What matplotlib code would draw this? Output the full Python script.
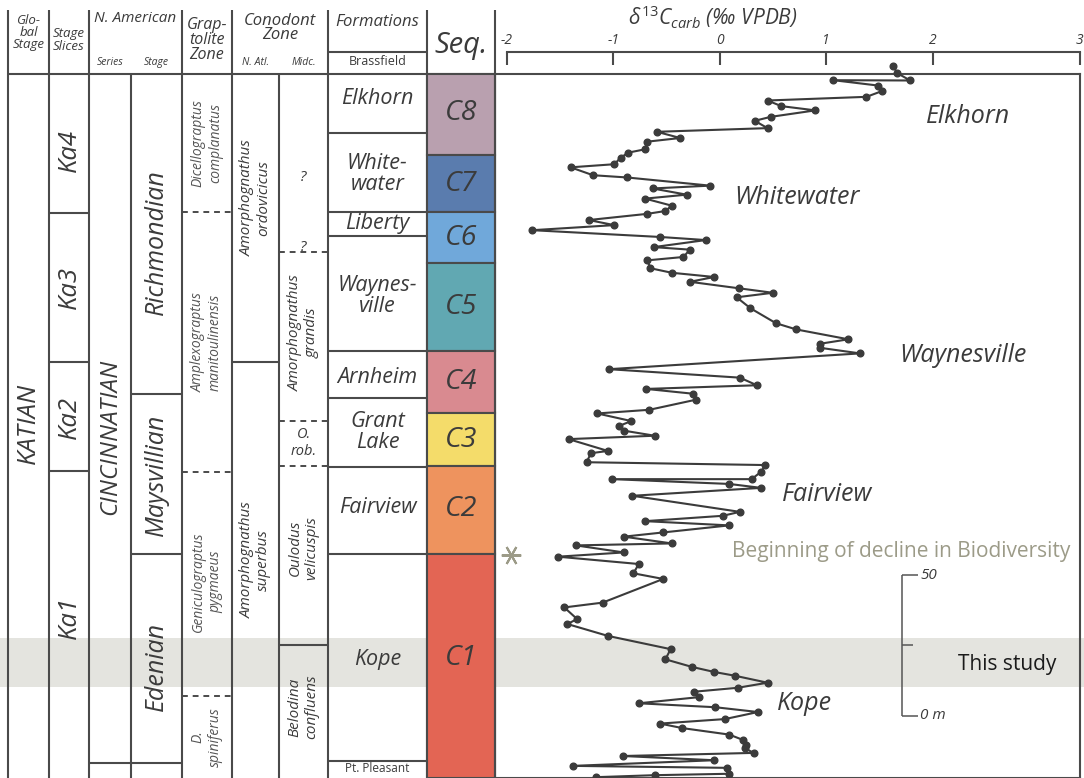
import matplotlib.pyplot as plt
from matplotlib.patches import Rectangle

plt.rcParams['font.family'] = ['Open Sans', 'DejaVu Sans']
plt.rcParams['mathtext.fontset'] = 'custom'
plt.rcParams['mathtext.it'] = 'Open Sans:italic'
plt.rcParams['mathtext.rm'] = 'Open Sans'

INK = '#3b3b3b'
LINE = '#4a4a4a'

# carbon isotope record: height above the 0 m datum (m) and d13C carb (permil VPDB)
heights = [230.5, 228.0, 225.4, 225.5, 223.6, 221.7, 219.6, 218.3, 216.3, 214.8,
           212.5, 211.1, 208.5, 207.2, 205.0, 203.7, 201.0, 199.8, 198.0, 195.7,
           194.6, 191.8, 191.0, 188.1, 187.1, 184.9, 183.5, 181.0, 179.1, 178.1,
           175.9, 174.1, 172.3, 169.9, 168.8, 166.3, 165.4, 162.8, 161.6, 158.8,
           157.2, 155.7, 154.0, 151.7, 150.1, 148.5, 144.6, 139.3, 137.1, 133.6,
           132.0, 130.6, 128.6, 123.0, 120.0, 117.3, 116.0, 114.3, 112.2, 108.6,
           107.3, 104.6, 102.8, 101.2, 99.4, 98.2, 94.0, 93.2, 90.0, 89.0,
           86.6, 84.0, 84.0, 82.3, 80.9, 78.1, 72.4, 71.0, 69.1, 67.6,
           65.1, 63.6, 61.2, 60.5, 58.0, 56.5, 53.9, 50.6, 48.6, 40.2,
           38.5, 34.4, 32.6, 28.4, 23.7, 20.1, 17.4, 15.6, 14.3, 11.8,
           10.0, 8.6, 6.7, 4.5, 3.1, 1.4, -1.1, -2.7, -4.3, -6.6,
           -8.5, -10.3, -11.5, -13.1, -14.2, -15.7, -17.7, -18.4, -20.5, -21.0, -21.7]
d13c = [1.63, 1.67, 1.79, 1.07, 1.49, 1.53, 1.38, 0.45, 0.58, 0.90,
        0.48, 0.33, 0.45, -0.59, -0.37, -0.68, -0.70, -0.86, -0.93, -0.99,
        -1.40, -1.19, -0.87, -0.09, -0.63, -0.31, -0.70, -0.45, -0.51, -0.68,
        -1.23, -0.99, -1.76, -0.56, -0.13, -0.62, -0.28, -0.34, -0.68, -0.65,
        -0.45, -0.05, -0.28, 0.18, 0.50, 0.16, 0.29, 0.53, 0.72, 1.21,
        0.94, 0.94, 1.32, -1.04, 0.19, 0.35, -0.69, -0.25, -0.22, -0.66,
        -1.15, -0.83, -0.95, -0.90, -0.61, -1.42, -1.05, -1.21, -1.25, 0.43,
        0.39, 0.30, -1.01, 0.09, 0.39, -0.82, 0.19, 0.03, -0.70, 0.09,
        -0.53, -0.90, -0.45, -1.35, -0.90, -1.52, -0.76, -0.81, -0.53, -1.10,
        -1.46, -1.34, -1.43, -1.05, -0.46, -0.51, -0.26, -0.05, 0.14, 0.45,
        0.17, -0.24, -0.19, -0.76, -0.04, 0.36, 0.05, -0.56, -0.35, 0.09,
        0.22, 0.25, 0.24, 0.32, -0.91, -0.05, -1.38, 0.07, 0.09, -0.61, -1.16]

x_ticks = [-2, -1, 0, 1, 2, 3.38]
x_tick_labels = ['-2', '-1', '0', '1', '2', '3']

# column table (heights in m)
TOP, BOTTOM, HEAD_TOP = 227.7, -22.0, 250.4
slice_bounds = [178.4, 125.5, 86.9]
slice_names = ['Ka4', 'Ka3', 'Ka2', 'Ka1']
slice_label_h = [200.7, 151.8, 106.0, 34.8]
stage_bounds = [114.2, 57.4, -16.7]
stage_names = ['Richmondian', 'Maysvillian', 'Edenian']
stage_label_h = [168.0, 85.5, 17.7]
grapt_bounds = [178.7, 86.5, 7.1]
grapt_names = ['Dicellograptus\ncomplanatus', 'Amplexograptus\nmanitoulinensis',
               'Geniculograptus\npygmaeus', 'D.\nspiniferus']
grapt_label_h = [203.2, 132.6, 47.5, -7.4]
natl_bounds = [125.5]
natl_names = ['Amorphognathus\nordovicicus', 'Amorphognathus\nsuperbus']
natl_label_h = [183.7, 55.3]
midc_dashed = [164.5, 104.6, 88.7]
midc_solid = [25.2]
midc_names = ['Amorphognathus\ngrandis', 'Oulodus\nvelicuspis', 'Belodina\nconfluens']
midc_label_h = [135.8, 59.6, 3.2]
formation_bounds = [206.7, 178.7, 170.2, 129.4, 112.8, 88.3, 57.4, -16.0]
formation_names = ['Elkhorn', 'White-\nwater', 'Liberty', 'Waynes-\nville', 'Arnheim',
                   'Grant\nLake', 'Fairview', 'Kope']
formation_label_h = [218.8, 192.2, 174.5, 148.9, 120.2, 100.7, 74.1, 20.2]
seq_names = ['C8', 'C7', 'C6', 'C5', 'C4', 'C3', 'C2', 'C1']
seq_tops = [TOP, 198.8, 178.7, 160.6, 129.3, 107.3, 88.5, 57.4]
seq_bases = [198.8, 178.7, 160.6, 129.3, 107.3, 88.5, 57.4, BOTTOM]
seq_label_h = [214.0, 188.7, 169.6, 145.0, 118.3, 97.9, 73.5, 20.5]
seq_colors = ['#b9a0af', '#5a7cae', '#70a8da', '#61a8b2', '#d98a90', '#f4dc6a', '#ee935e', '#e36554']
study_interval = (10.4, 27.8)

# column edges (pixels across the figure)
cx = [8, 49, 89, 131, 182, 232, 279, 328, 427, 495]

fig = plt.figure(figsize=(10.84, 7.78), dpi=100)
ax = fig.add_axes([0, 0, 1, 1])
ax.set_xlim(0, 1084)
ax.set_ylim(BOTTOM, 253.9)
ax.axis('off')

ax.axhspan(*study_interval, color='#e4e4df', lw=0, zorder=0)


def mid(i):
    return (cx[i] + cx[i + 1]) / 2


def label(x, h, s, size, rot=0, style='italic', color=INK, ls=1.0, z=5):
    ax.text(x, h, s, fontsize=size, rotation=rot, style=style, color=color,
            ha='center', va='center', linespacing=ls, zorder=z,
            rotation_mode='anchor' if rot else 'default')


# frame lines
for x in [cx[0], cx[1], cx[2], cx[4], cx[5], cx[7], cx[8], cx[9]]:
    ax.vlines(x, BOTTOM, HEAD_TOP, color=LINE, lw=1.5, zorder=3)
for x in [cx[3], cx[6]]:
    ax.vlines(x, BOTTOM, TOP, color=LINE, lw=1.5, zorder=3)
ax.hlines(TOP, cx[0], cx[9], color=LINE, lw=1.5, zorder=3)
ax.hlines(235.5, cx[7], cx[8], color=LINE, lw=1.5, zorder=3)

ax.hlines(slice_bounds, cx[1], cx[2], color=LINE, lw=1.5, zorder=3)
ax.hlines(stage_bounds[-1], cx[2], cx[4], color=LINE, lw=1.5, zorder=3)
ax.hlines(stage_bounds[:-1], cx[3], cx[4], color=LINE, lw=1.5, zorder=3)
ax.hlines(grapt_bounds, cx[4], cx[5], color=LINE, lw=1.4, ls=(0, (3, 2.5)), zorder=3)
ax.hlines(natl_bounds, cx[5], cx[6], color=LINE, lw=1.5, zorder=3)
ax.hlines(midc_dashed, cx[6], cx[7], color=LINE, lw=1.4, ls=(0, (3, 2.5)), zorder=3)
ax.hlines(midc_solid, cx[6], cx[7], color=LINE, lw=1.5, zorder=3)
ax.hlines(formation_bounds, cx[7], cx[8], color=LINE, lw=1.5, zorder=3)

# header
label(mid(0), 242.2, 'Glo-\nbal\nStage', 9.5, ls=0.9)
label(mid(1), 239.7, 'Stage\nSlices', 9.5, ls=0.95)
label((cx[2] + cx[4]) / 2, 247.5, 'N. American', 11)
label(mid(2), 231.6, 'Series', 7.5)
label(mid(3), 231.6, 'Stage', 7.5)
label(mid(4), 239.7, 'Grap-\ntolite\nZone', 11.5, ls=0.9)
label((cx[5] + cx[7]) / 2, 244.0, 'Conodont\nZone', 12, ls=0.85)
label(mid(5), 231.6, 'N. Atl.', 7.5)
label(mid(6), 231.6, 'Midc.', 7.5)
label(mid(7), 246.1, 'Formations', 12)
label(mid(7), 232.0, 'Brassfield', 9, style='normal')
label(mid(8), 237.9, 'Seq.', 21)

# columns
label(mid(0), 103.9, 'KATIAN', 18.5, rot=90)
for name, h in zip(slice_names, slice_label_h):
    label(mid(1), h, name, 18.5, rot=90)
label(mid(2), 98.8, 'CINCINNATIAN', 17.5, rot=90)
for name, h in zip(stage_names, stage_label_h):
    label(mid(3), h, name, 18, rot=90)
for name, h in zip(grapt_names, grapt_label_h):
    label(mid(4), h, name, 10, rot=90, color='#555555', ls=1.2)
for name, h in zip(natl_names, natl_label_h):
    label(mid(5), h, name, 11, rot=90, ls=1.15)
for name, h in zip(midc_names, midc_label_h):
    label(mid(6), h, name, 11, rot=90, ls=1.15)
label(mid(6), 191.1, '?', 11)
label(mid(6), 166.0, '?', 11)
label(mid(6), 96.8, 'O.\nrob.', 10.5, ls=1.15)
for name, h in zip(formation_names, formation_label_h):
    label(mid(7), h, name, 15.5, ls=1.05)
label(mid(7), -18.8, 'Pt. Pleasant', 8.5, style='normal')

for name, top, base, h, c in zip(seq_names, seq_tops, seq_bases, seq_label_h, seq_colors):
    ax.add_patch(Rectangle((cx[8], base), cx[9] - cx[8], top - base, facecolor=c,
                           edgecolor=LINE, lw=1.5, zorder=4))
    label(mid(8), h, name, 20.5)

# isotope panel
cax = fig.add_axes([495 / 1084, 0, (1079.5 - 495) / 1084, (778 - 74) / 778])
cax.set_xlim(-2.111, 3.382)
cax.set_ylim(BOTTOM, TOP)
cax.patch.set_alpha(0)
cax.set_xticks([])
cax.set_yticks([])
for s in cax.spines.values():
    s.set_color(LINE)
    s.set_linewidth(1.5)

cax.plot(d13c, heights, '-o', color=INK, lw=1.5, ms=4.8, clip_on=False, zorder=5)

for s, v, h in [('Elkhorn', 2.334, 212.8), ('Whitewater', 0.727, 184.0),
                ('Waynesville', 2.287, 128.0), ('Fairview', 1.009, 78.4), ('Kope', 0.802, 4.3)]:
    cax.text(v, h, s, fontsize=18, style='italic', color=INK, ha='center', va='center')

cax.plot(-1.96, 57.1, marker=(6, 2, 90), ms=14, mew=1.5, color='#9c9b88', clip_on=False)
cax.text(1.705, 58.5, 'Beginning of decline in Biodiversity', fontsize=15, color='#9c9b88',
         ha='center', va='center')
cax.text(2.70, 18.1, 'This study', fontsize=15, color='#1a1a1a', ha='center', va='center')

# 50 m scale bar
sb = 1.714
cax.vlines(sb, 0, 50, color='#555555', lw=1.1)
cax.hlines([0, 50], sb, sb + 0.15, color='#555555', lw=1.1)
cax.hlines(25, sb, sb + 0.1, color='#555555', lw=1.1)
cax.text(sb + 0.17, 50, '50', fontsize=11, style='italic', color=INK, ha='left', va='center')
cax.text(sb + 0.17, 0, '0 m', fontsize=11, style='italic', color=INK, ha='left', va='center')

# d13C scale above the panel
sax = fig.add_axes([507 / 1084, (778 - 65) / 778, (1079.5 - 507) / 1084, 13 / 778])
sax.set_xlim(-2, 3.38)
sax.patch.set_alpha(0)
for k in ['bottom', 'left', 'right']:
    sax.spines[k].set_visible(False)
sax.spines['top'].set_color(LINE)
sax.spines['top'].set_linewidth(1.5)
sax.set_yticks([])
sax.xaxis.tick_top()
sax.set_xticks(x_ticks)
sax.set_xticklabels(x_tick_labels, fontstyle='italic', color=INK)
sax.tick_params(axis='x', direction='in', length=9.4, width=1.5, color=LINE, pad=3, labelsize=10)

fig.text(713 / 1084, 1 - 17 / 778, r'$\delta^{13}C_{carb}$ (‰ VPDB)', fontsize=15,
         style='italic', color=INK, ha='center', va='center')

fig.savefig('out.png', dpi=100)
